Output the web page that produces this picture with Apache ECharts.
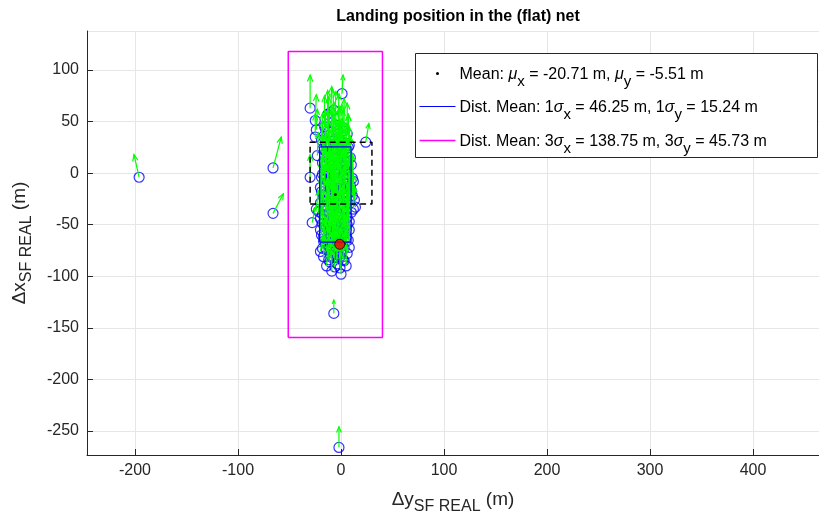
<!DOCTYPE html>
<html>
<head>
<meta charset="utf-8">
<script src="https://cdn.jsdelivr.net/npm/echarts@6/dist/echarts.min.js"></script>
<style>
    html,body{margin:0;padding:0;background:#fff;}
    #main{width:819px;height:518px;}
</style>
</head>
<body>
<div id="main"></div>
<script>
// landing positions: horizontal = Δy, vertical = Δx (m)
var posDy = [-196,-66,-66,-7,-2,1,-30,-13,-10,-7,-25,-24,-25,24,-18,-23,-30,-19,-28,-20,
    -9,0,3,-4,-11,-24,12,2,11,11,14,9,8,4,-15,-10,-5,0,5,-12,
    -3,3,-18,-8,0,6,-14,-6,2,-10,-2,4,-16,-7,1,-12,-4,3,-9,0,
    -15,-6,5,-11,-2,-8,2,-13,-5,0,-10,-3,4,-7,-1,-12,-5,1,-9,-3,
    -14,-6,0,-10,-4,-8,-2,-6,-11,-1,-4,-9,0,-6,-13,-3,-7,-12,-16,6,
    7,-17,8,-18,-19,-17,
    -16,-6,3,-12,-3,6,-19,-7,1,8,-14,-1,7,-16,-7,1,9,-15,-4,4,
    10,-18,-11,-1,7,-16,-5,5,12,-20,-10,3,10,-17,-8,7,13,-20,-13,-5,
    8,-22,-14,-8,2,10,-20,-4,6,-18,-9,3,8,-20,-14,-6,2,8,-19,-10,
    -4,5,-15,-8,-2,4,-18,-11,-6,3,6,-17,-12,-7,-1,2,-6,-14,-1,5];
var posDx = [-4,5,-39,-136,-266,77,63,57,59,61,51,42,35,30,23,17,-4,-4,-48,-76,
    -95,-98,-85,-88,-86,-35,-35,41,-5,-22,-33,-12,-26,3,30,28,25,22,20,18,
    15,12,10,8,6,4,2,0,-2,-5,-8,-10,-12,-14,-16,-20,-22,-24,-27,-30,
    -32,-34,-36,-38,-40,-43,-45,-47,-49,-52,-54,-56,-58,-60,-62,-64,-66,-68,-70,-72,
    -74,-76,-78,-80,-82,36,33,20,12,10,3,-2,-12,-18,-8,-26,-31,-58,-52,-50,
    -65,-66,-72,-40,-18,-61,
    45,47,44,40,41,38,32,31,30,27,26,27,25,18,16,17,15,7,8,7,
    8,-1,0,1,-1,-6,-6,-5,-8,-14,-15,-14,-17,-22,-21,-20,-26,-29,-27,-29,
    -30,-37,-36,-37,-35,-38,-44,-42,-43,-49,-48,-49,-47,-55,-53,-55,-56,-55,-60,-61,
    -59,-62,-68,-67,-66,-67,-73,-72,-71,-73,-78,-81,-84,-82,-81,-84,-91,-90,-92,-90];
// quiver components (direction arrows)
var arrU = [-5,8,10,0,0,1,0,0,1,-1,1,1,0,3,0,1,0,0,3,2,
    0,0,-1,0,1,2,0,0,-1,0,-1,0,1,0,0,1,0,-1,0,0,
    1,0,1,0,0,-1,0,1,0,0,-1,0,1,0,0,0,1,0,0,-1,
    1,0,0,0,1,0,0,1,0,0,1,0,-1,0,0,1,0,0,1,0,
    1,0,0,1,0,0,0,1,0,0,0,1,0,0,1,0,0,1,1,0,
    -1,1,0,1,1,2,
    0,1,0,0,1,0,1,0,0,-1,1,0,0,1,0,0,-1,1,0,0,
    -1,1,0,0,0,1,0,0,-1,1,0,0,-1,1,0,0,-1,1,0,0,
    0,2,1,0,0,-1,1,0,0,1,0,0,-1,1,1,0,0,-1,1,0,
    0,0,1,0,0,0,1,0,0,0,-1,1,0,0,0,0,0,1,0,0];
var arrV = [22,30,19,13,20,18,32,23,25,20,25,20,22,18,28,22,22,20,15,15,
    20,20,18,18,20,18,22,20,24,22,20,26,20,30,30,32,35,30,28,34,
    36,30,26,38,34,30,32,36,34,30,38,32,28,36,34,30,38,30,34,36,
    26,36,28,32,38,34,32,28,36,34,30,36,30,34,32,26,30,28,26,30,
    22,26,24,22,24,28,30,32,30,34,36,32,36,34,28,36,34,26,24,26,
    24,20,22,24,24,18,
    30,32,28,34,36,30,26,38,36,30,34,38,32,30,38,36,30,32,40,36,
    28,28,36,40,32,30,38,36,26,26,36,38,28,30,38,32,24,26,34,40,
    30,22,30,38,36,26,24,38,30,26,36,34,28,22,30,36,34,26,22,32,
    34,28,24,30,32,26,20,26,30,26,22,20,22,26,28,24,22,18,22,20];

var meanDy = -5.51, meanDx = -20.71;
var sigDx = 46.25, sigDy = 15.24;
var netHalf = 30;
var hitPoint = [-1.3, -69];

function rectPath(cx, cy, hw, hh) {
    return [[cx-hw, cy-hh],[cx+hw, cy-hh],[cx+hw, cy+hh],[cx-hw, cy+hh],[cx-hw, cy-hh]];
}

var landData = [], arrowData = [];
for (var i = 0; i < posDy.length; i++) {
    landData.push([posDy[i], posDx[i]]);
    arrowData.push([posDy[i], posDx[i], arrU[i], arrV[i]]);
}

var chart = echarts.init(document.getElementById('main'));
var fontName = 'Liberation Sans';
var axisCol = '#262626';

function renderArrow(params, api) {
    var x = api.value(0), y = api.value(1);
    var p0 = api.coord([x, y]);
    var p1 = api.coord([x + api.value(2), y + api.value(3)]);
    var dx = p1[0]-p0[0], dy = p1[1]-p0[1];
    var len = Math.sqrt(dx*dx+dy*dy);
    var ang = Math.atan2(dy, dx);
    var hl = Math.min(7, len*0.3);
    var a1 = ang + Math.PI - 0.4, a2 = ang + Math.PI + 0.4;
    return {
        type: 'group',
        children: [{
            type: 'polyline',
            shape: {points: [p0, p1]},
            style: {stroke: '#00ff00', lineWidth: 1.2, fill: null}
        }, {
            type: 'polyline',
            shape: {points: [[p1[0]+hl*Math.cos(a1), p1[1]+hl*Math.sin(a1)], p1, [p1[0]+hl*Math.cos(a2), p1[1]+hl*Math.sin(a2)]]},
            style: {stroke: '#00ff00', lineWidth: 1.2, fill: null}
        }]
    };
}

var subRich = {
    n: {fontSize: 16, fontFamily: fontName, color: '#000'},
    g: {fontSize: 16, fontFamily: fontName, color: '#000', fontStyle: 'italic'},
    s: {fontSize: 15, fontFamily: fontName, color: '#000', padding: [14,0,0,0]}
};

option = {
    animation: false,
    title: {
        text: 'Landing position in the (flat) net',
        left: 453,
        top: 4,
        textAlign: 'center',
        textStyle: {fontFamily: fontName, fontSize: 16, fontWeight: 'bold', color: '#000'}
    },
    grid: {left: 87, right: 0, top: 31, bottom: 63, outerBoundsMode: 'none'},
    xAxis: {
        type: 'value',
        min: -246.6,
        max: 464,
        splitNumber: 7,
        name: '{a|Δy}{b|SF REAL}{a| (m)}',
        nameLocation: 'middle',
        nameGap: 30,
        nameTextStyle: {
            rich: {
                a: {fontSize: 19, fontFamily: fontName, color: axisCol},
                b: {fontSize: 16, fontFamily: fontName, color: axisCol, padding: [14,0,0,0]}
            }
        },
        axisLine: {show: true, onZero: false, lineStyle: {color: axisCol}},
        axisTick: {inside: true, length: 6, lineStyle: {color: axisCol}},
        axisLabel: {showMinLabel: false, showMaxLabel: false, fontSize: 16, fontFamily: fontName, color: axisCol, margin: 8},
        splitLine: {show: true, lineStyle: {color: '#e6e6e6'}}
    },
    yAxis: {
        type: 'value',
        min: -273.3,
        max: 137.8,
        splitNumber: 8,
        name: '{a|Δx}{b|SF REAL}{a| (m)}',
        nameLocation: 'middle',
        nameGap: 52,
        nameTextStyle: {
            rich: {
                a: {fontSize: 19, fontFamily: fontName, color: axisCol},
                b: {fontSize: 16, fontFamily: fontName, color: axisCol, padding: [14,0,0,0]}
            }
        },
        axisLine: {show: true, onZero: false, lineStyle: {color: axisCol}},
        axisTick: {inside: true, length: 6, lineStyle: {color: axisCol}},
        axisLabel: {showMinLabel: false, showMaxLabel: false, fontSize: 16, fontFamily: fontName, color: axisCol, margin: 8},
        splitLine: {show: true, lineStyle: {color: '#e6e6e6'}}
    },
    series: [
        {
            type: 'line',
            data: rectPath(meanDy, meanDx, 3*sigDy, 3*sigDx),
            symbol: 'none',
            lineStyle: {color: '#ff00ff', width: 1.5},
            z: 2
        },
        {
            type: 'scatter',
            data: landData,
            symbol: 'circle',
            symbolSize: 10,
            itemStyle: {color: 'rgba(0,0,0,0)', borderColor: '#0000ff', borderWidth: 1.2},
            z: 3
        },
        {
            type: 'custom',
            data: arrowData,
            renderItem: renderArrow,
            encode: {x: 0, y: 1},
            z: 4
        },
        {
            type: 'line',
            data: rectPath(0, 0, netHalf, netHalf),
            symbol: 'none',
            lineStyle: {color: '#000', width: 1.5, type: [6, 4]},
            z: 5
        },
        {
            type: 'line',
            data: rectPath(meanDy, meanDx, sigDy, sigDx),
            symbol: 'none',
            lineStyle: {color: '#0000ff', width: 1.2},
            z: 5
        },
        {
            type: 'scatter',
            data: [[meanDy, meanDx]],
            symbolSize: 3,
            itemStyle: {color: '#000'},
            z: 6
        },
        {
            type: 'scatter',
            data: [hitPoint],
            symbolSize: 10,
            itemStyle: {color: '#ff0000', borderColor: '#000', borderWidth: 1},
            z: 7
        }
    ],
    graphic: [{
        type: 'group',
        left: 415,
        top: 53,
        z: 100,
        children: [
            {type: 'rect', z: 100, shape: {x: 0, y: 0, width: 402, height: 104}, style: {fill: '#fff', stroke: axisCol, lineWidth: 1}},
            {type: 'circle', z: 101, shape: {cx: 22, cy: 20, r: 1.5}, style: {fill: '#000'}},
            {type: 'text', z: 101, x: 44, y: 7, style: {text: '{n|Mean: }{g|μ}{s|x}{n| = -20.71 m, }{g|μ}{s|y}{n| = -5.51 m}', rich: subRich}},
            {type: 'line', z: 101, shape: {x1: 4, y1: 53, x2: 40, y2: 53}, style: {stroke: '#0000ff', lineWidth: 1.2}},
            {type: 'text', z: 101, x: 44, y: 40, style: {text: '{n|Dist. Mean: 1}{g|σ}{s|x}{n| = 46.25 m, 1}{g|σ}{s|y}{n| = 15.24 m}', rich: subRich}},
            {type: 'line', z: 101, shape: {x1: 4, y1: 87, x2: 40, y2: 87}, style: {stroke: '#ff00ff', lineWidth: 1.5}},
            {type: 'text', z: 101, x: 44, y: 74, style: {text: '{n|Dist. Mean: 3}{g|σ}{s|x}{n| = 138.75 m, 3}{g|σ}{s|y}{n| = 45.73 m}', rich: subRich}}
        ]
    }]
};
chart.setOption(option);

window.addEventListener('resize', function(){
    chart.resize();
});
</script>
</body>
</html>
